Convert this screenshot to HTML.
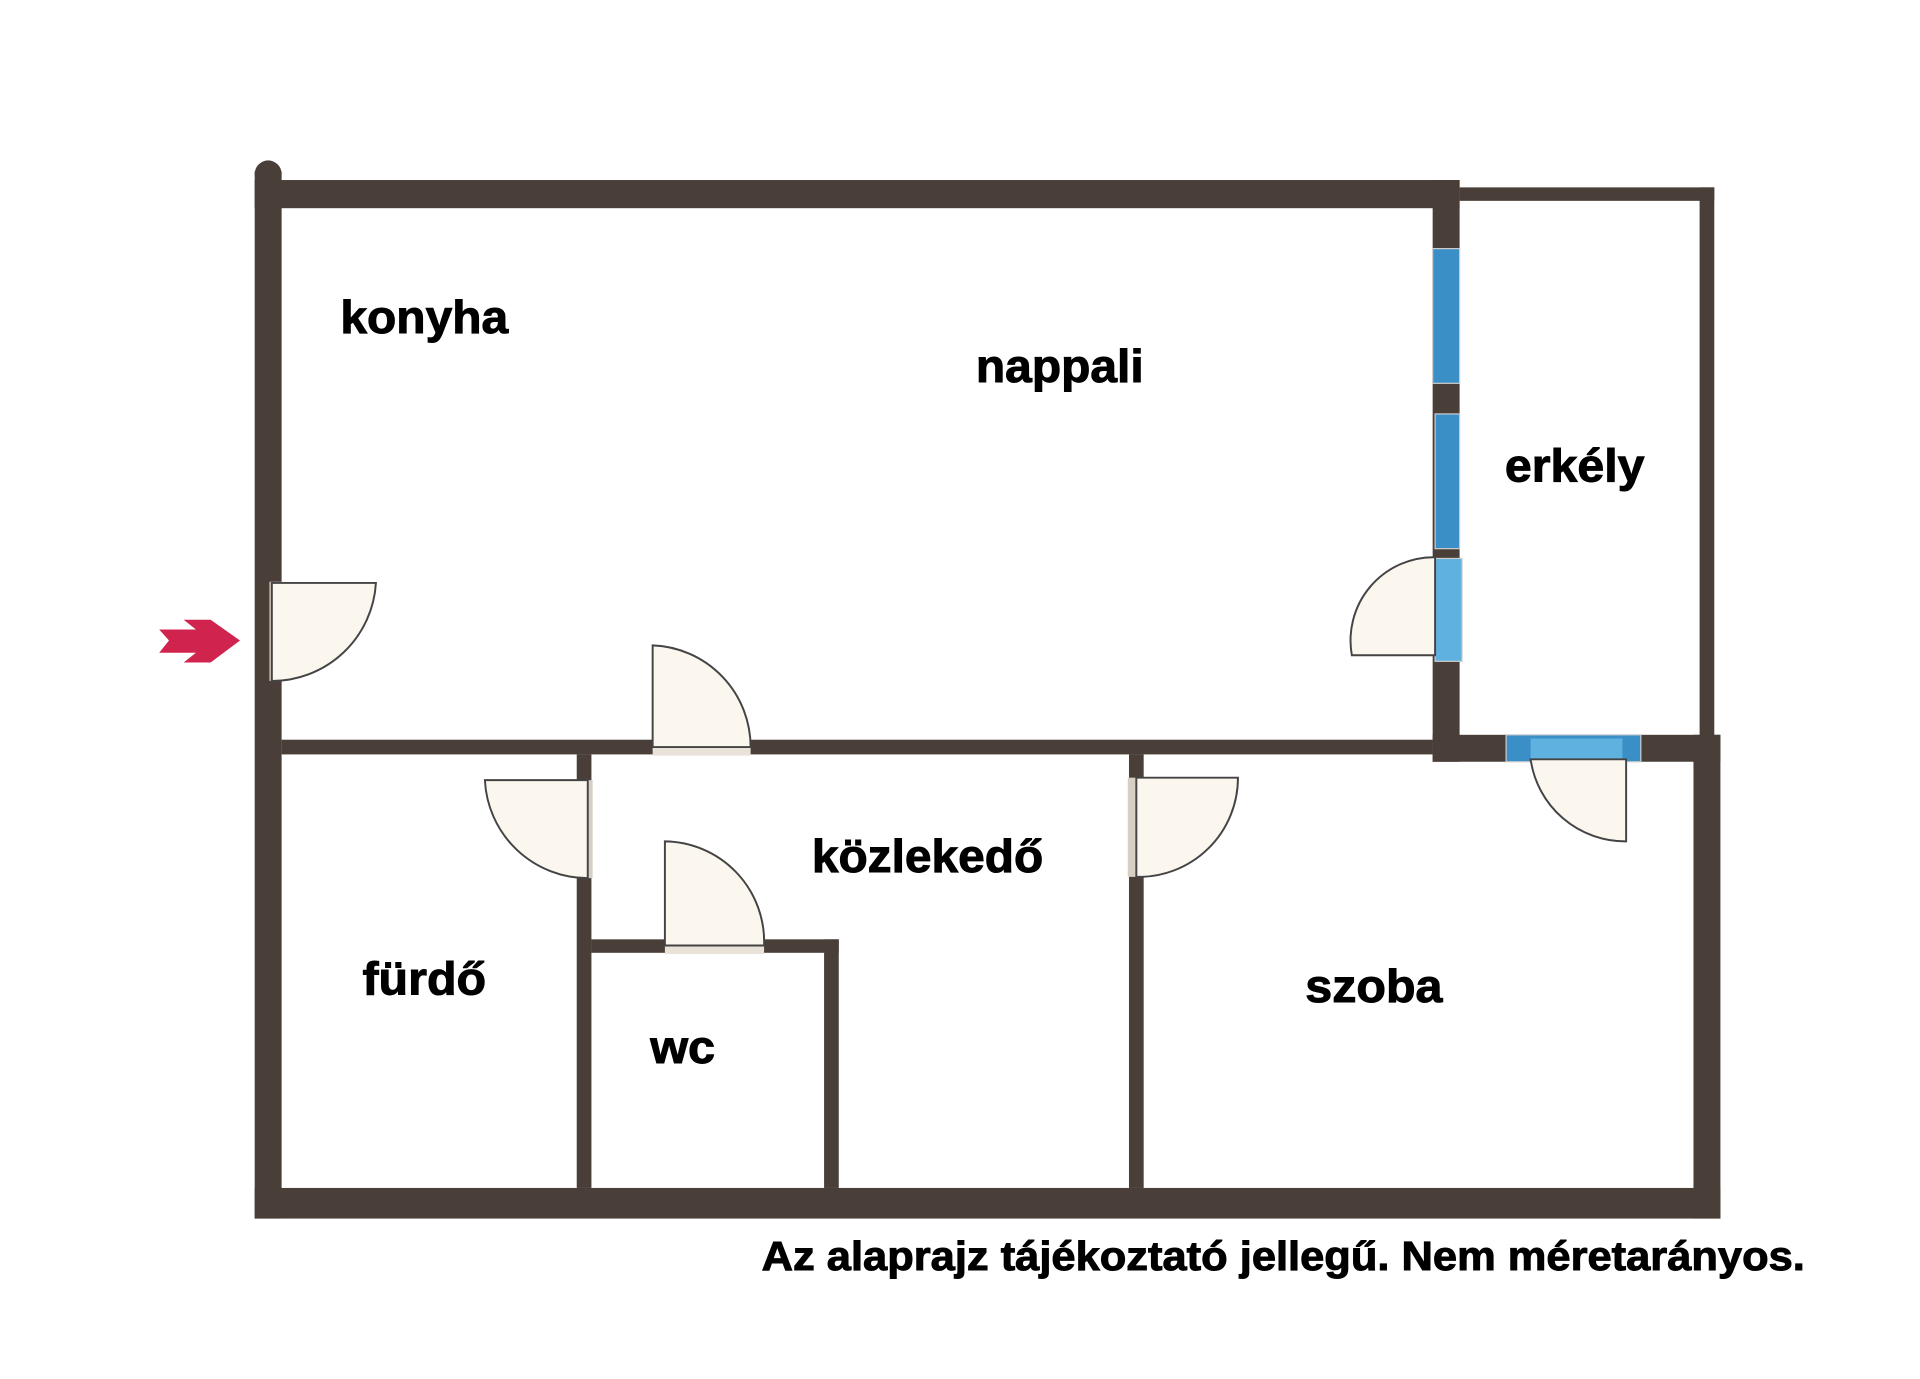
<!DOCTYPE html>
<html><head><meta charset="utf-8"><style>html,body{margin:0;padding:0;background:#fff}svg{display:block}</style></head>
<body>
<svg width="1920" height="1379" viewBox="0 0 1568 1126" preserveAspectRatio="none" xmlns="http://www.w3.org/2000/svg">
<rect width="1568" height="1126" fill="#fff"/>
<g fill="#4a3f38">
<rect x="208" y="147" width="984" height="23"/>
<rect x="208" y="140" width="22" height="855"/>
<circle cx="219" cy="142" r="11"/>
<rect x="1170" y="147" width="22" height="475"/>
<rect x="1192" y="153" width="208" height="11"/>
<rect x="1388" y="153" width="12" height="450"/>
<rect x="1170" y="600" width="60" height="22"/>
<rect x="1340" y="600" width="65" height="22"/>
<rect x="1383" y="600" width="22" height="395"/>
<rect x="230" y="604" width="940" height="12"/>
<rect x="208" y="970" width="1197" height="25"/>
<rect x="471" y="616" width="12" height="354"/>
<rect x="483" y="767" width="202" height="11"/>
<rect x="673" y="767" width="12" height="203"/>
<rect x="922" y="616" width="12" height="354"/>
</g>
<rect x="1170" y="203" width="22" height="110" fill="#3b8fc7" stroke="#ccc" stroke-width="1"/>
<rect x="1172" y="338" width="20" height="110" fill="#3b8fc7" stroke="#ccc" stroke-width="1"/>
<rect x="1172" y="456" width="22" height="84" fill="#5fb2e0" stroke="#ccc" stroke-width="1"/>
<rect x="1230" y="600" width="110" height="22" fill="#3b8fc7" stroke="#ccc" stroke-width="1"/>
<rect x="1250" y="603" width="75" height="18" fill="#5fb2e0"/>
<rect x="533" y="603" width="80" height="14" fill="#e9e2d8"/>
<rect x="543" y="766" width="81" height="13" fill="#e9e2d8"/>
<rect x="470" y="637" width="14" height="80" fill="#d8cfc4"/>
<rect x="921" y="635" width="14" height="81" fill="#d8cfc4"/>
<rect x="220" y="475" width="11" height="81" fill="#cfc6bb"/>
<g fill="#fbf6ee" stroke="#444" stroke-width="1.6">
<path d="M222 476 L307 476 A85 85 0 0 1 222 556 Z"/>
<path d="M533 610 L533 527 A83 83 0 0 1 613 610 Z"/>
<path d="M480 637 L396 637 A84 84 0 0 0 480 717 Z"/>
<path d="M543 772 L543 687 A82 82 0 0 1 624 772 Z"/>
<path d="M928 635 L1011 635 A81 81 0 0 1 928 716 Z"/>
<path d="M1172 535 L1104 535 A68 68 0 0 1 1172 455 Z"/>
<path d="M1328 620 L1328 687 A78 78 0 0 1 1250 620 Z"/>
</g>
<path d="M130 514 L160 514 L150 506 L172 506 L196 523 L172 541 L150 541 L160 533 L130 533 L138 523 Z" fill="#d0244f"/>
<g font-family="Liberation Sans, Arial, sans-serif" font-weight="bold" fill="#000" stroke="#000" stroke-width="0.8" font-size="38">
<text x="278" y="272" textLength="137" lengthAdjust="spacingAndGlyphs">konyha</text>
<text x="797" y="312" textLength="137" lengthAdjust="spacingAndGlyphs">nappali</text>
<text x="1229" y="393" textLength="114" lengthAdjust="spacingAndGlyphs">erkély</text>
<text x="663" y="712" textLength="189" lengthAdjust="spacingAndGlyphs">közlekedő</text>
<text x="296" y="812" textLength="101" lengthAdjust="spacingAndGlyphs">fürdő</text>
<text x="531" y="868" textLength="53" lengthAdjust="spacingAndGlyphs">wc</text>
<text x="1066" y="818" textLength="112" lengthAdjust="spacingAndGlyphs">szoba</text>
<text x="622" y="1037" font-size="33" textLength="852" lengthAdjust="spacingAndGlyphs">Az alaprajz tájékoztató jellegű. Nem méretarányos.</text>
</g>
</svg>
</body></html>
